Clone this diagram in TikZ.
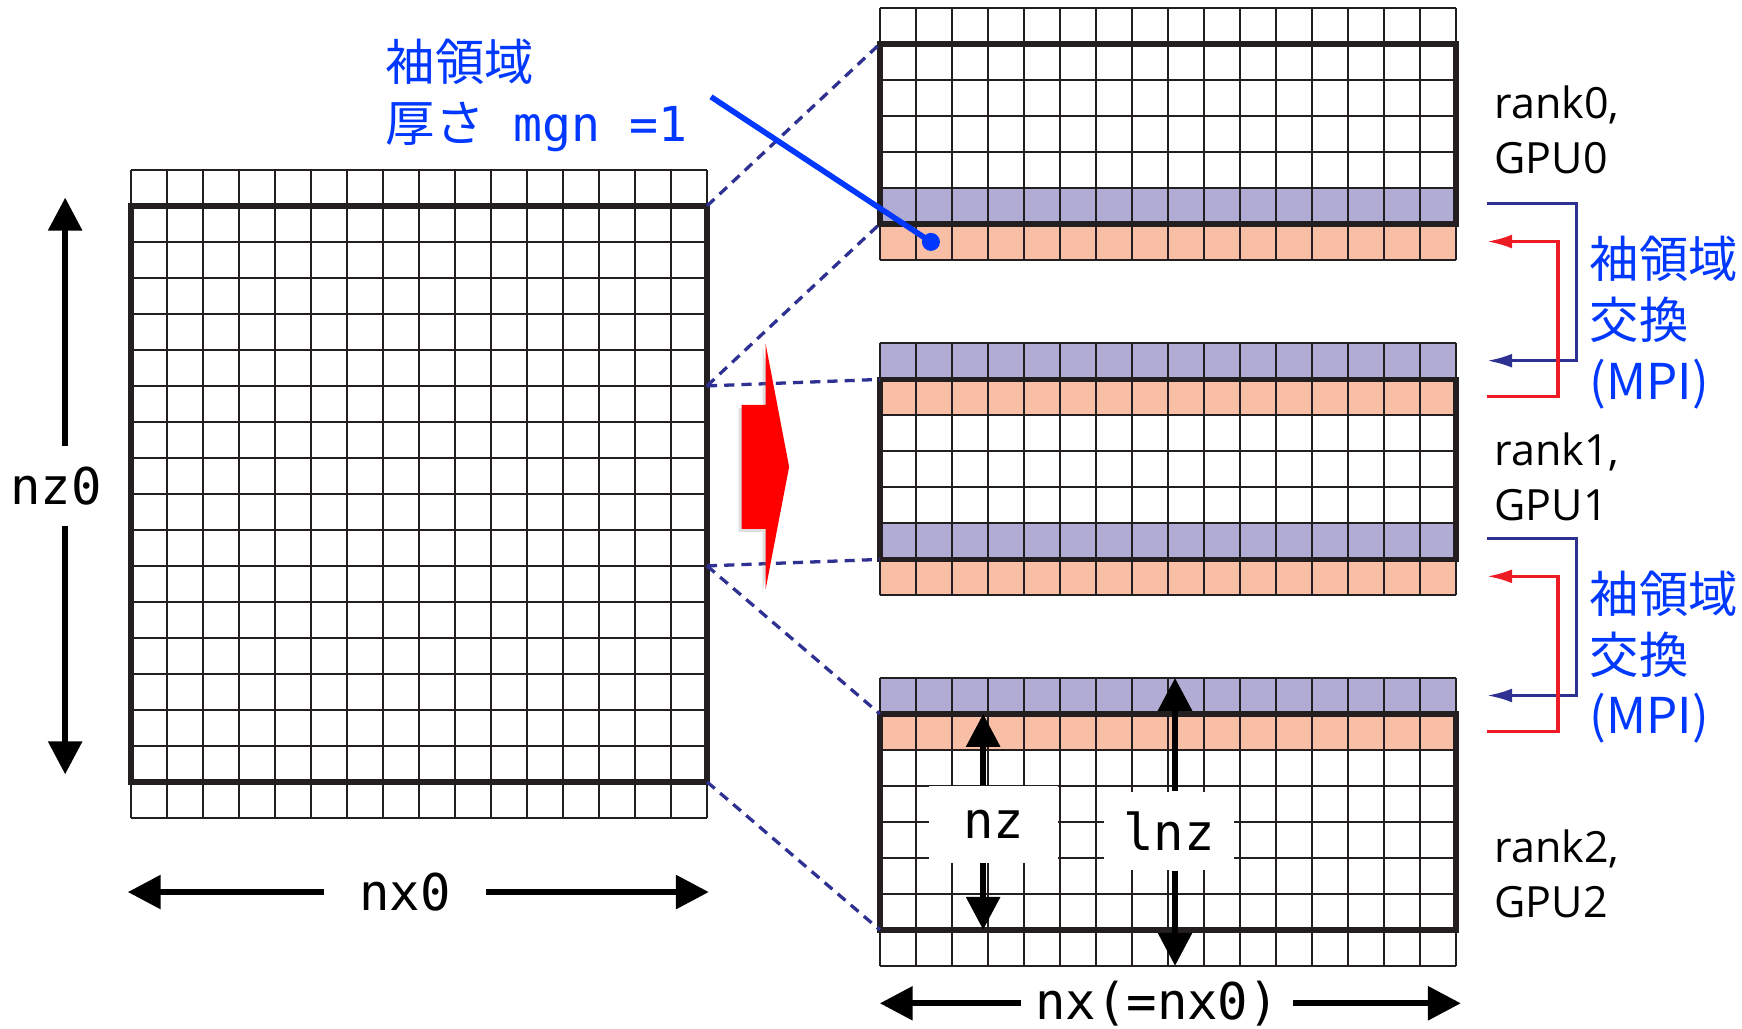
\documentclass[tikz,border=0pt]{standalone}
\usepackage{fontspec}
\setmainfont{Open Sans}
\setmonofont{DejaVu Sans Mono}
\newfontfamily\jpfont{Noto Sans CJK JP}
\usepackage{tikz}
\usetikzlibrary{arrows.meta,calc,shadows}

\definecolor{haloblue}{RGB}{176,172,212}
\definecolor{halored}{RGB}{249,191,166}
\definecolor{gridink}{RGB}{35,31,32}
\definecolor{mpinavy}{RGB}{46,49,146}
\definecolor{mpired}{RGB}{237,28,36}
\definecolor{noteblue}{RGB}{0,56,255}

\begin{document}
\begin{tikzpicture}[
        x=0.5cm, y=0.5cm,
        thinline/.style={draw=gridink, line width=0.75pt, step=0.5cm},
        thickbox/.style={draw=gridink, line width=2.2pt},
        sendrow/.style={fill=haloblue},
        recvrow/.style={fill=halored},
        splitline/.style={draw=mpinavy, line width=1.3pt, dash pattern=on 4pt off 2.8pt},
        bigarrow/.style={-{Triangle[length=13pt,width=13pt]}, line width=2.4pt},
        navyarrow/.style={-{Latex[length=10pt,width=5.5pt]}, draw=mpinavy, line width=1.3pt},
        redarrow/.style={-{Latex[length=10pt,width=5.5pt]}, draw=mpired, line width=1.3pt},
        dimlabel/.style={font=\ttfamily\fontsize{20}{24}\selectfont, inner sep=0pt},
        dimbox/.style={dimlabel, fill=white},
        ranklabel/.style={anchor=west, align=left, inner sep=0pt, font=\fontsize{17}{21.7}\selectfont},
        notelabel/.style={anchor=west, align=left, inner sep=0pt, text=noteblue, font=\jpfont\fontsize{19.5}{24}\selectfont}
        ]
        \useasboundingbox (0,0) rectangle (48.39,28.58);

        % Whole domain (nx0 x nz0) with halo rows
        \begin{scope}[shift={(3.64,5.86)}]
            \draw[thinline] (0,0) grid (16,18);
            \draw[thickbox] (0,1) rectangle (16,17);
            \coordinate (fullA) at (16,17);
            \coordinate (fullB) at (16,12);
            \coordinate (fullC) at (16,7);
            \coordinate (fullD) at (16,1);
        \end{scope}

        % rank0
        \begin{scope}[shift={(24.44,21.36)}]
            \fill[recvrow] (0,0) rectangle (16,1);
            \fill[sendrow] (0,1) rectangle (16,2);
            \draw[thinline] (0,0) grid (16,7);
            \draw[thickbox] (0,1) rectangle (16,6);
            \coordinate (r0top) at (0,6);
            \coordinate (r0bot) at (0,1);
            \coordinate (r0dot) at (1.42,0.5);
        \end{scope}

        % rank1
        \begin{scope}[shift={(24.44,12.04)}]
            \fill[recvrow] (0,0) rectangle (16,1);
            \fill[sendrow] (0,1) rectangle (16,2);
            \fill[recvrow] (0,5) rectangle (16,6);
            \fill[sendrow] (0,6) rectangle (16,7);
            \draw[thinline] (0,0) grid (16,7);
            \draw[thickbox] (0,1) rectangle (16,6);
            \coordinate (r1top) at (0,6);
            \coordinate (r1bot) at (0,1);
        \end{scope}

        % rank2
        \begin{scope}[shift={(24.44,1.75)}]
            \fill[recvrow] (0,6) rectangle (16,7);
            \fill[sendrow] (0,7) rectangle (16,8);
            \draw[thinline] (0,0) grid (16,8);
            \draw[thickbox] (0,1) rectangle (16,7);
            \coordinate (r2top) at (0,7);
            \coordinate (r2bot) at (0,1);
        \end{scope}

        % Split lines
        \draw[splitline] (fullA) -- (r0top);
        \draw[splitline] (fullB) -- (r0bot);
        \draw[splitline] (fullB) -- (r1top);
        \draw[splitline] (fullC) -- (r1bot);
        \draw[splitline] (fullC) -- (r2top);
        \draw[splitline] (fullD) -- (r2bot);

        % Red block arrow
        \fill[red, drop shadow={shadow xshift=-1.2pt, shadow yshift=-1.2pt, opacity=0.25}]
            (20.60,17.33) -- (21.27,17.33) -- (21.27,19.02) -- (21.92,15.61)
            -- (21.27,12.22) -- (21.27,13.89) -- (20.60,13.89) -- cycle;

        % Halo note
        \node[notelabel] (halonote) at (10.7,25.92) {袖領域\\厚さ{\fontsize{19}{24}\ttfamily\selectfont{} mgn =1}};
        \coordinate (noteend) at (19.75,25.89);
        \draw[noteblue, line width=2.2pt] (noteend) -- (r0dot);
        \fill[noteblue] (r0dot) circle (0.25);

        % Halo exchange rank0 - rank1
        \coordinate (sendA) at (41.3,22.93);
        \coordinate (recvA) at (41.3,18.56);
        \coordinate (backA) at (41.3,17.56);
        \coordinate (haloA) at (41.3,21.87);
        \draw[navyarrow] (sendA) -- ++(2.5,0) |- (recvA);
        \draw[redarrow] (backA) -- ++(1.98,0) |- (haloA);
        \node[notelabel] (mpiA) at (44.15,19.62) {袖領域\\交換\\(MPI)};

        % Halo exchange rank1 - rank2
        \coordinate (sendB) at (41.3,13.63);
        \coordinate (recvB) at (41.3,9.26);
        \coordinate (backB) at (41.3,8.26);
        \coordinate (haloB) at (41.3,12.57);
        \draw[navyarrow] (sendB) -- ++(2.5,0) |- (recvB);
        \draw[redarrow] (backB) -- ++(1.98,0) |- (haloB);
        \node[notelabel] (mpiB) at (44.15,10.32) {袖領域\\交換\\(MPI)};

        % Rank labels
        \node[ranklabel] (rank0) at (41.5,24.97) {rank0,\\GPU0};
        \node[ranklabel] (rank1) at (41.5,15.33) {rank1,\\GPU1};
        \node[ranklabel] (rank2) at (41.5,4.30) {rank2,\\GPU2};

        % nz0
        \node[dimlabel, inner ysep=8pt] (nz0) at (1.56,15.08) {nz0};
        \coordinate (nz0top) at (1.81,23.09);
        \coordinate (nz0bot) at (1.81,7.07);
        \draw[bigarrow] (nz0.north -| nz0top) -- (nz0top);
        \draw[bigarrow] (nz0.south -| nz0bot) -- (nz0bot);

        % nx0
        \node[dimlabel, inner xsep=13.7pt] (nx0) at (11.25,3.80) {nx0};
        \coordinate (nx0left) at (3.55,3.80);
        \coordinate (nx0right) at (19.69,3.80);
        \draw[bigarrow] (nx0.west) -- (nx0left);
        \draw[bigarrow] (nx0.east) -- (nx0right);

        % nx(=nx0)
        \node[dimlabel, inner xsep=5.4pt] (nx) at (32.14,0.71) {nx(=nx0)};
        \coordinate (nxleft) at (24.44,0.71);
        \coordinate (nxright) at (40.58,0.71);
        \draw[bigarrow] (nx.west) -- (nxleft);
        \draw[bigarrow] (nx.east) -- (nxright);

        % nz and lnz inside rank2
        \node[dimbox, minimum width=1.795cm, minimum height=1.07cm] (nz) at (27.6,5.68) {nz};
        \coordinate (nzup) at (27.31,8.75);
        \coordinate (nzdown) at (27.31,2.75);
        \draw[bigarrow] (nz.north -| nzup) -- (nzup);
        \draw[bigarrow] (nz.south -| nzdown) -- (nzdown);

        \node[dimbox, minimum width=1.805cm, minimum height=1.09cm] (lnz) at (32.47,5.50) {lnz};
        \coordinate (lnzup) at (32.64,9.75);
        \coordinate (lnzdown) at (32.64,1.75);
        \draw[bigarrow] (lnz.north -| lnzup) -- (lnzup);
        \draw[bigarrow] (lnz.south -| lnzdown) -- (lnzdown);

    \end{tikzpicture}
\end{document}
